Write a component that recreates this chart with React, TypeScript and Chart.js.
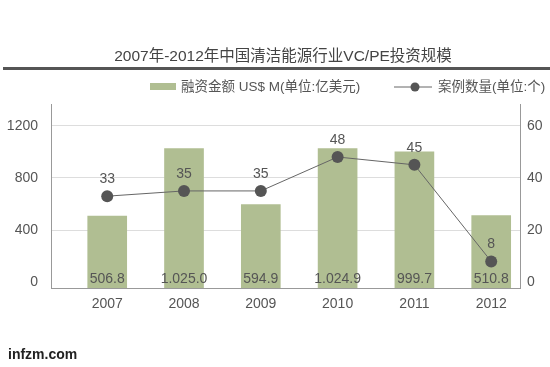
import React, { useEffect, useRef } from "react";
import { Chart, registerables } from "chart.js";

Chart.register(...registerables);

const years = ["2007", "2008", "2009", "2010", "2011", "2012"];
const fundingValues = [506.8, 1025.0, 594.9, 1024.9, 999.7, 510.8];
const fundingLabels = ["506.8", "1.025.0", "594.9", "1.024.9", "999.7", "510.8"];
const caseCounts = [33, 35, 35, 48, 45, 8];
const leftTicks = [0, 400, 800, 1200];
const rightTicks = [0, 20, 40, 60];

const titleText = "2007年-2012年中国清洁能源行业VC/PE投资规模";
const legendBar = "融资金额 US$ M(单位:亿美元)";
const legendLine = "案例数量(单位:个)";
const sourceText = "infzm.com";

const FONT = "'Liberation Sans', 'Noto Sans CJK SC', sans-serif";
const BAR_COLOR = "#b0be92";
const TEXT = "#555555";

export default function App() {
  const ref = useRef<HTMLCanvasElement | null>(null);

  useEffect(() => {
    document.body.style.margin = "0";
    const canvas = ref.current;
    if (!canvas) return;

    const decor = {
      id: "decor",
      beforeDraw(chart: any) {
        const ctx = chart.ctx;
        ctx.save();
        ctx.fillStyle = "#ffffff";
        ctx.fillRect(0, 0, chart.width, chart.height);
        // title
        ctx.fillStyle = "#444444";
        ctx.font = `15.5px ${FONT}`;
        ctx.textAlign = "center";
        ctx.textBaseline = "middle";
        ctx.fillText(titleText, 283, 57);
        ctx.strokeStyle = "#555555";
        ctx.lineWidth = 3;
        ctx.beginPath();
        ctx.moveTo(3, 68.5);
        ctx.lineTo(550, 68.5);
        ctx.stroke();
        // legend
        ctx.fillStyle = BAR_COLOR;
        ctx.fillRect(150, 83, 26, 7);
        ctx.fillStyle = TEXT;
        ctx.font = `13.5px ${FONT}`;
        ctx.textAlign = "left";
        ctx.fillText(legendBar, 181, 87);
        ctx.strokeStyle = "#666666";
        ctx.lineWidth = 1;
        ctx.beginPath();
        ctx.moveTo(394, 87);
        ctx.lineTo(432, 87);
        ctx.stroke();
        ctx.fillStyle = "#555555";
        ctx.beginPath();
        ctx.arc(415, 87, 4.5, 0, Math.PI * 2);
        ctx.fill();
        ctx.fillStyle = TEXT;
        ctx.fillText(legendLine, 438, 87);
        // source
        ctx.fillStyle = "#222222";
        ctx.font = `bold 14px ${FONT}`;
        ctx.fillText(sourceText, 8, 355);
        ctx.restore();
      },
      afterDatasetsDraw(chart: any) {
        const ctx = chart.ctx;
        ctx.save();
        ctx.textAlign = "center";
        ctx.textBaseline = "middle";
        ctx.font = `14px ${FONT}`;
        ctx.fillStyle = TEXT;
        const barMeta = chart.getDatasetMeta(0);
        barMeta.data.forEach((el: any, i: number) => {
          ctx.fillText(fundingLabels[i], el.x, chart.chartArea.bottom - 9);
        });
        const lineMeta = chart.getDatasetMeta(1);
        lineMeta.data.forEach((el: any, i: number) => {
          ctx.fillText(String(caseCounts[i]), el.x, el.y - 17);
        });
        ctx.restore();
      },
    };

    const chart = new Chart(canvas, {
      type: "bar",
      data: {
        datasets: [
          {
            type: "bar",
            label: legendBar,
            data: fundingValues.map((v, i) => ({ x: i, y: v })),
            backgroundColor: BAR_COLOR,
            barThickness: 39,
            base: -43.7,
            yAxisID: "y",
            order: 2,
          } as any,
          {
            type: "line",
            label: legendLine,
            data: caseCounts.map((v, i) => ({ x: i, y: v })),
            borderColor: "#666666",
            borderWidth: 1,
            pointRadius: 6,
            pointBackgroundColor: "#555555",
            pointBorderWidth: 0,
            yAxisID: "y1",
            order: 1,
          } as any,
        ],
      },
      options: {
        animation: false,
        responsive: false,
        layout: { padding: { top: 104, left: 0, right: 0, bottom: 0 } },
        plugins: {
          legend: { display: false },
          title: { display: false },
          tooltip: { enabled: false },
        },
        scales: {
          x: {
            type: "linear",
            min: -0.732,
            max: 5.375,
            offset: false,
            afterBuildTicks: (s: any) => {
              s.ticks = years.map((_, i) => ({ value: i }));
            },
            afterFit: (s: any) => {
              s.height = 79;
            },
            ticks: {
              callback: (v: any) => years[v as number] ?? "",
              color: TEXT,
              font: { size: 14, family: FONT },
              padding: 8,
              maxRotation: 0,
              autoSkip: false,
            },
            grid: { display: false, drawTicks: false },
            border: { display: true, color: "#999999", width: 1 },
          },
          y: {
            type: "linear",
            position: "left",
            min: -43.7,
            max: 1366,
            afterBuildTicks: (s: any) => {
              s.ticks = leftTicks.map((v) => ({ value: v }));
            },
            afterFit: (s: any) => {
              s.width = 51;
            },
            ticks: {
              callback: (v: any) => String(v),
              color: TEXT,
              font: { size: 14, family: FONT },
              padding: 13,
            },
            grid: {
              drawTicks: false,
              color: (c: any) => (c.tick && c.tick.value === 0 ? "rgba(0,0,0,0)" : "#dddddd"),
            },
            border: { display: true, color: "#999999", width: 1 },
          },
          y1: {
            type: "linear",
            position: "right",
            min: -2.18,
            max: 68.3,
            afterBuildTicks: (s: any) => {
              s.ticks = rightTicks.map((v) => ({ value: v }));
            },
            afterFit: (s: any) => {
              s.width = 30;
            },
            ticks: {
              callback: (v: any) => String(v),
              color: TEXT,
              font: { size: 14, family: FONT },
              padding: 7,
            },
            grid: { display: false, drawTicks: false },
            border: { display: true, color: "#999999", width: 1 },
          },
        },
      } as any,
      plugins: [decor],
    });

    return () => chart.destroy();
  }, []);

  return <canvas ref={ref} width={550} height={367} style={{ display: "block" }} />;
}
